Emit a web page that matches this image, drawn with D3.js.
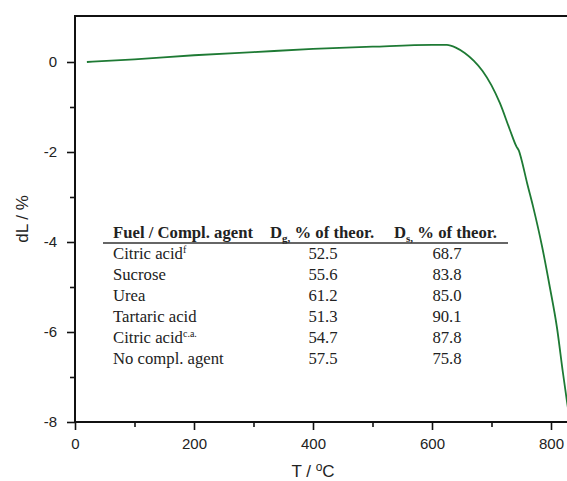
<!DOCTYPE html>
<html>
<head>
<meta charset="utf-8">
<script src="https://cdn.jsdelivr.net/npm/d3@7"></script>
<style>
  body { margin: 0; background: #fff; }
  svg { display: block; }
  .tick text { font-family: "Liberation Sans", Arial, sans-serif; font-size: 15px; fill: #222; }
  .tick line { stroke: #111; stroke-width: 1.6; }
  .tbl { font-family: "Liberation Serif", "Times New Roman", serif; font-size: 16.7px; fill: #222; }
</style>
</head>
<body>
<svg id="chart" width="567" height="481"></svg>
<script>
// dilatometer curve
var temps = [20, 100, 200, 300, 400, 500, 600, 625, 640, 655, 670, 685, 700, 714, 731, 742, 746, 750, 760, 770, 785, 798, 810, 820, 827, 832];
var dL    = [0, 0.06, 0.15, 0.22, 0.29, 0.34, 0.38, 0.38, 0.32, 0.2, 0.03, -0.2, -0.52, -0.91, -1.51, -1.88, -1.97, -2.15, -2.7, -3.22, -4.1, -5.0, -5.9, -6.9, -7.56, -8.0];

var xMajor = [0, 200, 400, 600, 800];
var xMinor = [100, 300, 500, 700];
var yMajor = [0, -2, -4, -6, -8];
var yMinor = [-1, -3, -5, -7];

// table inset
var fuels   = ["Citric acid", "Sucrose", "Urea", "Tartaric acid", "Citric acid", "No compl. agent"];
var fuelSup = ["f", "", "", "", "c.a.", ""];
var densG   = ["52.5", "55.6", "61.2", "51.3", "54.7", "57.5"];
var densS   = ["68.7", "83.8", "85.0", "90.1", "87.8", "75.8"];

var LEFT = 75, RIGHT = 567, TOP = 16, BOTTOM = 422;

var svg = d3.select("#chart");

var xScale = d3.scaleLinear().domain([0, 800]).range([LEFT, 551]);
var yScale = d3.scaleLinear().domain([-8, 1]).range([BOTTOM, 17]);

// minor ticks first
svg.append("g")
    .attr("transform", "translate(" + LEFT + ",0)")
    .call(d3.axisLeft(yScale).tickValues(yMinor).tickSize(5).tickFormat(""))
    .call(g => g.select(".domain").remove());
svg.append("g")
    .attr("transform", "translate(0," + BOTTOM + ")")
    .call(d3.axisBottom(xScale).tickValues(xMinor).tickSize(5).tickFormat(""))
    .call(g => g.select(".domain").remove());

// major ticks with labels
svg.append("g")
    .attr("transform", "translate(" + LEFT + ",0)")
    .call(d3.axisLeft(yScale).tickValues(yMajor).tickSize(8).tickPadding(10).tickFormat(d => String(d)))
    .call(g => g.select(".domain").remove());
svg.append("g")
    .attr("transform", "translate(0," + BOTTOM + ")")
    .call(d3.axisBottom(xScale).tickValues(xMajor).tickSize(8).tickPadding(8).tickFormat(d => String(d)))
    .call(g => g.select(".domain").remove());

// frame lines
svg.append("line").attr("x1", LEFT).attr("x2", LEFT).attr("y1", TOP).attr("y2", BOTTOM + 1)
    .attr("stroke", "#111").attr("stroke-width", 2);
svg.append("line").attr("x1", LEFT - 1).attr("x2", RIGHT).attr("y1", BOTTOM).attr("y2", BOTTOM)
    .attr("stroke", "#111").attr("stroke-width", 2);
svg.append("line").attr("x1", LEFT - 1).attr("x2", RIGHT).attr("y1", TOP).attr("y2", TOP)
    .attr("stroke", "#111").attr("stroke-width", 2);

// curve
svg.append("defs").append("clipPath").attr("id", "plotclip")
    .append("rect").attr("x", LEFT).attr("y", TOP).attr("width", RIGHT - LEFT).attr("height", BOTTOM - TOP);

var lineGen = d3.line()
    .x((d, i) => xScale(temps[i]))
    .y(d => yScale(d))
    .curve(d3.curveMonotoneX);

svg.append("path")
    .datum(dL)
    .attr("clip-path", "url(#plotclip)")
    .attr("d", lineGen)
    .attr("fill", "none")
    .attr("stroke", "#1e7a34")
    .attr("stroke-width", 1.8);

// axis titles
svg.append("text")
    .attr("transform", "translate(24," + ((TOP + BOTTOM) / 2) + ") rotate(-90)")
    .attr("text-anchor", "middle")
    .attr("dominant-baseline", "middle")
    .style("font-family", "'Liberation Sans', Arial, sans-serif")
    .style("font-size", "17px")
    .style("fill", "#222")
    .text("dL / %");

var xt = svg.append("text")
    .attr("x", xScale(400))
    .attr("y", 477)
    .attr("text-anchor", "middle")
    .style("font-family", "'Liberation Sans', Arial, sans-serif")
    .style("font-size", "17px")
    .style("fill", "#222");
xt.append("tspan").text("T / ");
xt.append("tspan").attr("dy", -6).style("font-size", "12px").text("o");
xt.append("tspan").attr("dy", 6).text("C");

// table header
var hdrY = 238;
svg.append("text").attr("class", "tbl").attr("x", 113).attr("y", hdrY)
    .style("font-weight", "bold").text("Fuel / Compl. agent");

var hg = svg.append("text").attr("class", "tbl").attr("x", 270).attr("y", hdrY).style("font-weight", "bold");
hg.append("tspan").text("D");
hg.append("tspan").attr("dy", 4).style("font-size", "11px").text("g,");
hg.append("tspan").attr("dy", -4).text(" % of theor.");

var hs = svg.append("text").attr("class", "tbl").attr("x", 394).attr("y", hdrY).style("font-weight", "bold");
hs.append("tspan").text("D");
hs.append("tspan").attr("dy", 4).style("font-size", "11px").text("s,");
hs.append("tspan").attr("dy", -4).text(" % of theor.");

svg.append("line").attr("x1", 103).attr("x2", 508).attr("y1", 243).attr("y2", 243)
    .attr("stroke", "#333").attr("stroke-width", 1.3);

var rowY = d3.scaleLinear().domain([0, 1]).range([259, 280]);

var rows = svg.selectAll(".tblrow")
    .data(fuels)
    .enter()
    .append("g")
    .attr("class", "tblrow");

rows.each(function (d, i) {
    var g = d3.select(this);
    var t = g.append("text").attr("class", "tbl").attr("x", 113).attr("y", rowY(i));
    t.append("tspan").text(d);
    if (fuelSup[i]) {
        t.append("tspan").attr("dy", -6).style("font-size", "10px").text(fuelSup[i]);
    }
    g.append("text").attr("class", "tbl").attr("x", 323).attr("y", rowY(i))
        .attr("text-anchor", "middle").text(densG[i]);
    g.append("text").attr("class", "tbl").attr("x", 447).attr("y", rowY(i))
        .attr("text-anchor", "middle").text(densS[i]);
});
</script>
</body>
</html>
